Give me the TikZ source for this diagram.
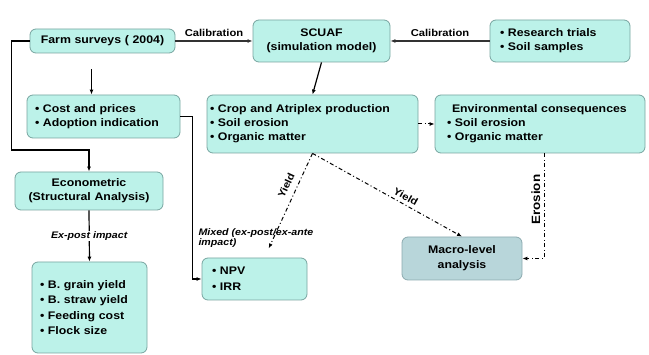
\documentclass[tikz,border=0pt]{standalone}
\usepackage{fontspec}
\setmainfont{Liberation Sans}[FakeStretch=1.12]
\usetikzlibrary{arrows.meta}

\definecolor{boxfill}{RGB}{188,242,233}
\definecolor{boxline}{RGB}{120,165,160}
\definecolor{macrofill}{RGB}{184,214,218}
\definecolor{macroline}{RGB}{140,170,175}

\newcommand{\itm}{\textbullet\ }

\begin{document}
\begin{tikzpicture}[x=1pt,y=-1pt,
    box/.style={draw=boxline,fill=boxfill,rounded corners=6pt,line width=0.8pt,
      font=\fontsize{11}{14}\selectfont\bfseries,inner xsep=4pt,inner ysep=2pt},
    cbox/.style={box,align=center},
    lbox/.style={box,align=left},
    flow/.style={-{Latex[length=5pt,width=4pt]},line width=1.2pt},
    calib/.style={flow,line width=1.6pt,draw=black!80},
    yieldline/.style={-{Latex[length=5pt,width=4pt]},line width=1pt,
      dash pattern=on 4pt off 2.5pt on 1pt off 2.5pt},
    lab/.style={font=\fontsize{10}{12}\selectfont\bfseries},
    ilab/.style={font=\fontsize{9.5}{10}\selectfont\bfseries\itshape,align=left}]
  \useasboundingbox (0,0) rectangle (649,355);

  % top row
  \node[cbox,text width=137pt,minimum height=24pt] (farm) at (102.5,41) {Farm surveys ( 2004)};
  \node[cbox,text width=129pt,minimum height=42pt] (scuaf) at (321.5,41) {SCUAF\\(simulation model)};
  \node[lbox,inner xsep=10pt,text width=120pt,minimum height=42pt] (trials) at (560,41)
    {\itm Research trials\\\itm Soil samples};

  % middle row
  \node[lbox,inner xsep=8pt,text width=137pt,minimum height=43pt] (cost) at (103.5,116.5)
    {\itm Cost and prices\\\itm Adoption indication};
  \node[lbox,inner xsep=3pt,text width=205pt,minimum height=58pt] (crop) at (312.5,124)
    {\itm Crop and Atriplex production\\\itm Soil erosion\\\itm Organic matter};
  \node[lbox,inner xsep=12pt,text width=186pt,minimum height=58pt] (env) at (540,124)
    {\hspace*{5pt}Environmental consequences\\\itm Soil erosion\\\itm Organic matter};
  \node[cbox,text width=140pt,minimum height=38pt] (econ) at (89,191) {Econometric\\(Structural Analysis)};

  % bottom row
  \node[lbox,inner xsep=8pt,text width=99pt,minimum height=91pt,
    font=\fontsize{11}{15.5}\selectfont\bfseries] (grain) at (89.5,307.5)
    {\itm B. grain yield\\\itm B. straw yield\\\itm Feeding cost\\\itm Flock size};
  \node[lbox,inner xsep=10pt,text width=85pt,minimum height=42pt,
    font=\fontsize{11}{16}\selectfont\bfseries] (npv) at (254.5,279) {\itm NPV\\\itm IRR};
  \node[cbox,draw=macroline,fill=macrofill,text width=112pt,minimum height=43pt,
    font=\fontsize{11}{15}\selectfont\bfseries] (macro) at (462,258.5) {Macro-level\\analysis};

  % connectors
  \draw[calib] (farm.east) -- node[lab,above] {Calibration} (scuaf.west);
  \draw[calib] (trials.west) -- node[lab,above] {Calibration} (scuaf.east);
  \draw[flow,shorten <=16pt] ([xshift=-11pt]farm.south) -- ([xshift=-11pt]farm.south |- cost.north);
  \draw[flow] (farm.west) -- ++(-18,0) -- ++(0,109) -| (econ.north);
  \draw[flow] (cost.east) -- ++(12,0) |- (npv.west);
  \draw[flow] (scuaf.south) -- (crop.north);
  \draw[yieldline] (crop.east) -- (env.west);
  \draw[flow] (econ.south) -- node[ilab,fill=white,inner sep=1pt] {Ex-post impact} (grain.north);
  \draw[yieldline,shorten >=10pt] (crop.south) -- node[lab,sloped,above=3pt,pos=0.35] {Yield} ([xshift=10pt]npv.north);
  \draw[yieldline] (crop.south) -- node[lab,sloped,above,pos=0.6] {Yield} (macro.north);
  \draw[yieldline] ([xshift=4pt]env.south) |- node[lab,font=\fontsize{12}{14}\selectfont\bfseries,
    rotate=90,anchor=south,pos=0.22] {Erosion} (macro.east);
  \node[ilab,anchor=west] (mixed) at (195,238) {Mixed (ex-post/ex-ante\\impact)};
\end{tikzpicture}
\end{document}
